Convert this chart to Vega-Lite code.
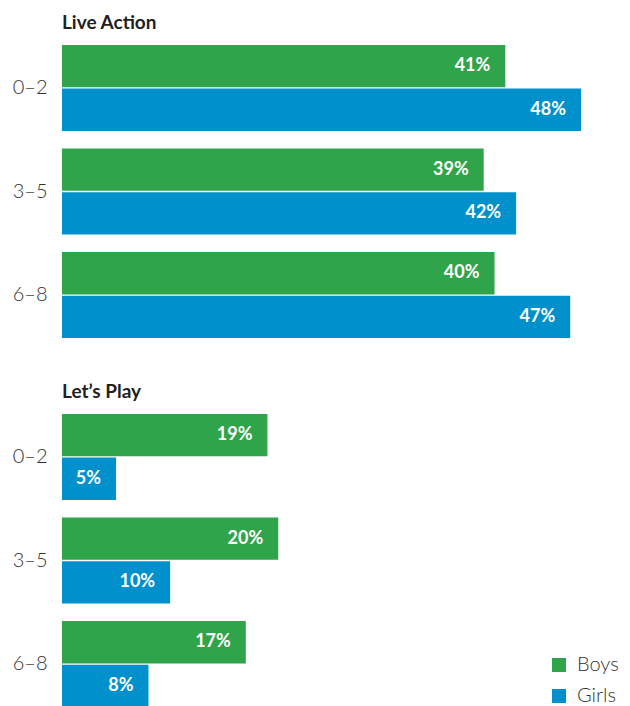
{
  "$schema": "https://vega.github.io/schema/vega-lite/v6.json",
  "padding": {"left": 12, "top": 14, "right": 5, "bottom": 0},
  "background": "white",
  "config": {"view": {"stroke": null}, "font": "Lato", "concat": {"spacing": 45}},
  "data": {"values": [
    {"section": "Live Action", "age": "0–2", "gender": "Boys", "value": 0.41},
    {"section": "Live Action", "age": "0–2", "gender": "Girls", "value": 0.48},
    {"section": "Live Action", "age": "3–5", "gender": "Boys", "value": 0.39},
    {"section": "Live Action", "age": "3–5", "gender": "Girls", "value": 0.42},
    {"section": "Live Action", "age": "6–8", "gender": "Boys", "value": 0.40},
    {"section": "Live Action", "age": "6–8", "gender": "Girls", "value": 0.47},
    {"section": "Let's Play", "age": "0–2", "gender": "Boys", "value": 0.19},
    {"section": "Let's Play", "age": "0–2", "gender": "Girls", "value": 0.05},
    {"section": "Let's Play", "age": "3–5", "gender": "Boys", "value": 0.20},
    {"section": "Let's Play", "age": "3–5", "gender": "Girls", "value": 0.10},
    {"section": "Let's Play", "age": "6–8", "gender": "Boys", "value": 0.17},
    {"section": "Let's Play", "age": "6–8", "gender": "Girls", "value": 0.08}
  ]},
  "vconcat": [
    {
      "title": {"text": "Live Action", "anchor": "start", "frame": "group", "fontSize": 19, "fontWeight": "bold", "color": "#231f20", "offset": 12},
      "width": 519, "height": 293,
      "transform": [{"filter": "datum.section === 'Live Action'"}],
      "encoding": {
        "y": {"field": "age", "type": "nominal", "sort": ["0–2", "3–5", "6–8"], "scale": {"paddingInner": 0.17, "paddingOuter": 0}, "axis": {"title": null, "domain": false, "ticks": false, "labelFontSize": 20, "labelFontWeight": 300, "labelColor": "#333333", "labelPadding": 15}},
        "yOffset": {"field": "gender", "type": "nominal", "sort": ["Boys", "Girls"], "scale": {"paddingInner": 0.03}},
        "x": {"field": "value", "type": "quantitative", "scale": {"domain": [0, 0.48], "nice": false}, "axis": null}
      },
      "layer": [
        {"mark": {"type": "bar"}, "encoding": {"color": {"field": "gender", "type": "nominal", "scale": {"domain": ["Boys", "Girls"], "range": ["#2fa44a", "#0091cd"]}, "legend": {"title": null, "orient": "none", "legendX": 487, "legendY": 610, "symbolType": "square", "symbolSize": 196, "symbolStrokeWidth": 0, "labelFontSize": 20, "labelFontWeight": 300, "labelColor": "#333333", "rowPadding": 11, "labelOffset": 8}}}},
        {"mark": {"type": "text", "align": "right", "dx": -15, "color": "white", "fontSize": 18, "fontWeight": "bold"}, "encoding": {"text": {"field": "value", "type": "quantitative", "format": ".0%"}}}
      ]
    },
    {
      "title": {"text": "Let’s Play", "anchor": "start", "frame": "group", "fontSize": 19, "fontWeight": "bold", "color": "#231f20", "offset": 12},
      "width": 519, "height": 293,
      "transform": [{"filter": "datum.section === \"Let's Play\""}],
      "encoding": {
        "y": {"field": "age", "type": "nominal", "sort": ["0–2", "3–5", "6–8"], "scale": {"paddingInner": 0.17, "paddingOuter": 0}, "axis": {"title": null, "domain": false, "ticks": false, "labelFontSize": 20, "labelFontWeight": 300, "labelColor": "#333333", "labelPadding": 15}},
        "yOffset": {"field": "gender", "type": "nominal", "sort": ["Boys", "Girls"], "scale": {"paddingInner": 0.03}},
        "x": {"field": "value", "type": "quantitative", "scale": {"domain": [0, 0.48], "nice": false}, "axis": null}
      },
      "layer": [
        {"mark": {"type": "bar"}, "encoding": {"color": {"field": "gender", "type": "nominal", "scale": {"domain": ["Boys", "Girls"], "range": ["#2fa44a", "#0091cd"]}}}},
        {"mark": {"type": "text", "align": "right", "dx": -15, "color": "white", "fontSize": 18, "fontWeight": "bold"}, "encoding": {"text": {"field": "value", "type": "quantitative", "format": ".0%"}}}
      ]
    }
  ]
}
